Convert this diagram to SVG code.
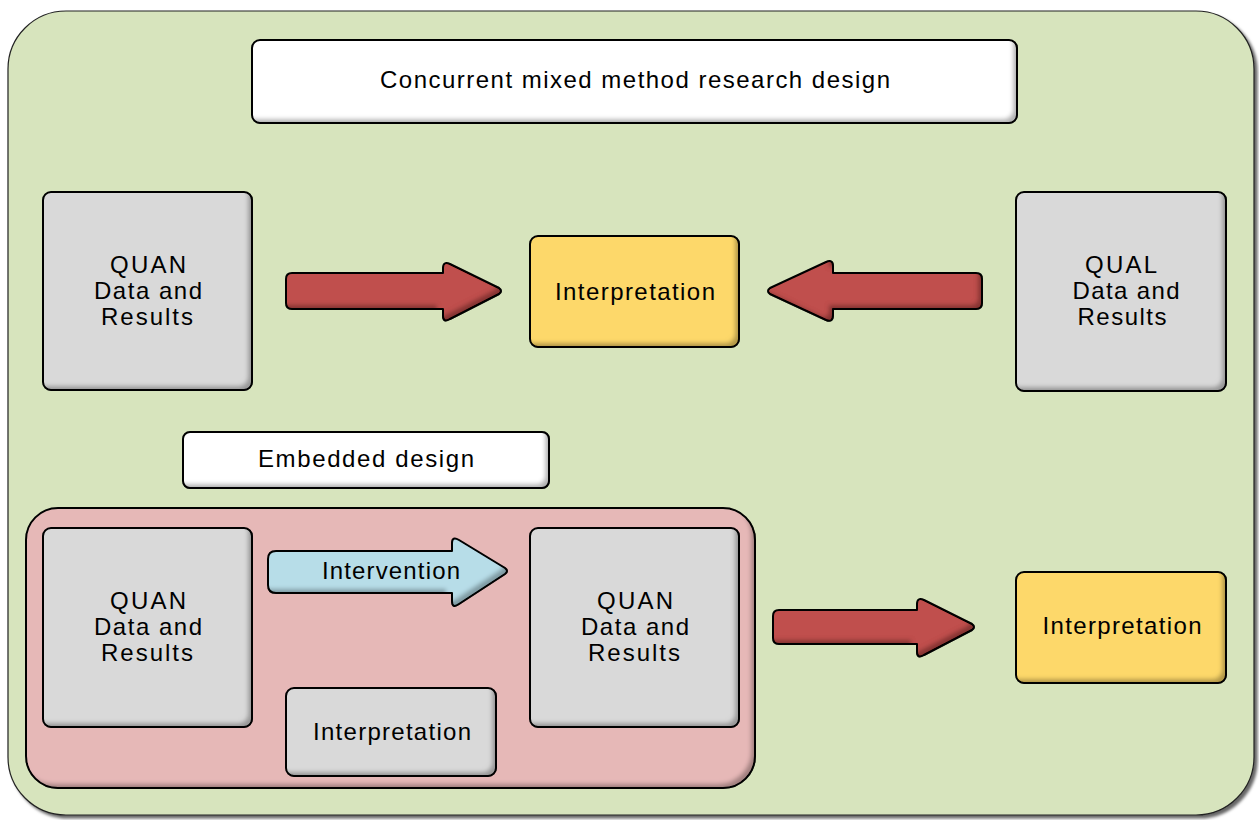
<svg xmlns="http://www.w3.org/2000/svg" width="1259" height="820" viewBox="0 0 1259 820">
  <defs>
    <!-- darkened lower-right rim inside each shape -->
    <filter id="bevel" x="-5%" y="-5%" width="110%" height="110%">
      <feOffset in="SourceAlpha" dx="-5" dy="-5" result="off"/>
      <feGaussianBlur in="off" stdDeviation="2.2" result="blur"/>
      <feComposite in="SourceAlpha" in2="blur" operator="out" result="edge"/>
      <feFlood flood-color="#000" flood-opacity="0.55"/>
      <feComposite in2="edge" operator="in" result="shade"/>
      <feMerge>
        <feMergeNode in="SourceGraphic"/>
        <feMergeNode in="shade"/>
      </feMerge>
    </filter>
    <filter id="drop" x="-2%" y="-2%" width="104%" height="104%">
      <feDropShadow dx="3" dy="3" stdDeviation="1.5" flood-color="#000" flood-opacity="0.6"/>
    </filter>
    <style>
      .frame { fill: #d7e4bd; stroke: #222; stroke-width: 1.2; }
      .box { stroke: #000; stroke-width: 2; filter: url(#bevel); }
      .white { fill: #ffffff; }
      .grey { fill: #d9d9d9; }
      .gold { fill: #fdd86a; }
      .pink { fill: #e6b8b7; }
      .red { fill: #c0504d; stroke: #000; stroke-width: 2; stroke-linejoin: round; filter: url(#bevel); }
      .blue { fill: #b7dde8; stroke: #000; stroke-width: 2; stroke-linejoin: round; filter: url(#bevel); }
      text { font-family: "Liberation Sans", Arial, sans-serif; font-size: 24px; fill: #000; text-anchor: middle; }
    </style>
  </defs>

  <!-- background panel -->
  <rect class="frame" x="8" y="11" width="1246" height="804" rx="58" ry="58" filter="url(#drop)"/>

  <g id="title">
    <rect class="box white" x="252" y="40" width="765" height="83" rx="8"/>
    <text x="635" y="88" textLength="510" lengthAdjust="spacing">Concurrent mixed method research design</text>
  </g>

  <g id="quan-top">
    <rect class="box grey" x="43" y="192" width="209" height="198" rx="8"/>
    <text x="148" y="273" textLength="76" lengthAdjust="spacing">QUAN</text>
    <text x="148" y="299" textLength="108" lengthAdjust="spacing">Data and</text>
    <text x="147" y="325" textLength="92" lengthAdjust="spacing">Results</text>
  </g>

  <g id="interpretation-top">
    <rect class="box gold" x="530" y="236" width="209" height="111" rx="8"/>
    <text x="635" y="300" textLength="160" lengthAdjust="spacing">Interpretation</text>
  </g>

  <g id="qual-top">
    <rect class="box grey" x="1016" y="192" width="210" height="199" rx="8"/>
    <text x="1121" y="273" textLength="72" lengthAdjust="spacing">QUAL</text>
    <text x="1126" y="299" textLength="107" lengthAdjust="spacing">Data and</text>
    <text x="1122" y="325" textLength="89" lengthAdjust="spacing">Results</text>
  </g>

  <g id="embedded-label">
    <rect class="box white" x="183" y="432" width="366" height="56" rx="7"/>
    <text x="366" y="467" textLength="216" lengthAdjust="spacing">Embedded design</text>
  </g>

  <g id="embedded-group">
    <rect class="box pink" x="26" y="508" width="729" height="280" rx="32"/>
  </g>

  <g id="quan-embedded-left">
    <rect class="box grey" x="43" y="528" width="209" height="199" rx="8"/>
    <text x="148" y="609" textLength="76" lengthAdjust="spacing">QUAN</text>
    <text x="148" y="635" textLength="108" lengthAdjust="spacing">Data and</text>
    <text x="147" y="661" textLength="92" lengthAdjust="spacing">Results</text>
  </g>

  <g id="quan-embedded-right">
    <rect class="box grey" x="530" y="528" width="209" height="199" rx="8"/>
    <text x="635" y="609" textLength="76" lengthAdjust="spacing">QUAN</text>
    <text x="635" y="635" textLength="108" lengthAdjust="spacing">Data and</text>
    <text x="634" y="661" textLength="92" lengthAdjust="spacing">Results</text>
  </g>

  <g id="interpretation-embedded">
    <rect class="box grey" x="286" y="688" width="210" height="88" rx="8"/>
    <text x="392" y="740" textLength="158" lengthAdjust="spacing">Interpretation</text>
  </g>

  <g id="interpretation-bottom">
    <rect class="box gold" x="1016" y="572" width="210" height="111" rx="8"/>
    <text x="1122" y="634" textLength="159" lengthAdjust="spacing">Interpretation</text>
  </g>

  <g id="connectors">
    <path class="red" d="M 292,273 L 443,273 L 443,268 Q 443,261 450,264 L 499,288 Q 503,291 499,294 L 450,319 Q 443,323 443,316 L 443,309 L 292,309 Q 286,309 286,303 L 286,279 Q 286,273 292,273 Z"/>
    <path class="red" d="M 976,273 Q 982,273 982,279 L 982,303 Q 982,309 976,309 L 833,309 L 833,315 Q 833,323 826,320 L 770,294 Q 766,291 770,288 L 826,262 Q 833,259 833,266 L 833,273 Z"/>
    <path class="red" d="M 779,610 L 917,610 L 917,604 Q 917,597 924,600 L 972,624 Q 976,627 972,630 L 924,655 Q 917,659 917,652 L 917,644 L 779,644 Q 773,644 773,638 L 773,616 Q 773,610 779,610 Z"/>
    <g id="intervention">
      <path class="blue" d="M 276,551 L 452,551 L 452,543 Q 452,536 459,540 L 505,568 Q 509,571 505,574 L 459,604 Q 452,609 452,601 L 452,593 L 276,593 Q 268,593 268,585 L 268,559 Q 268,551 276,551 Z"/>
      <text x="391" y="579" textLength="138" lengthAdjust="spacing">Intervention</text>
    </g>
  </g>
</svg>
